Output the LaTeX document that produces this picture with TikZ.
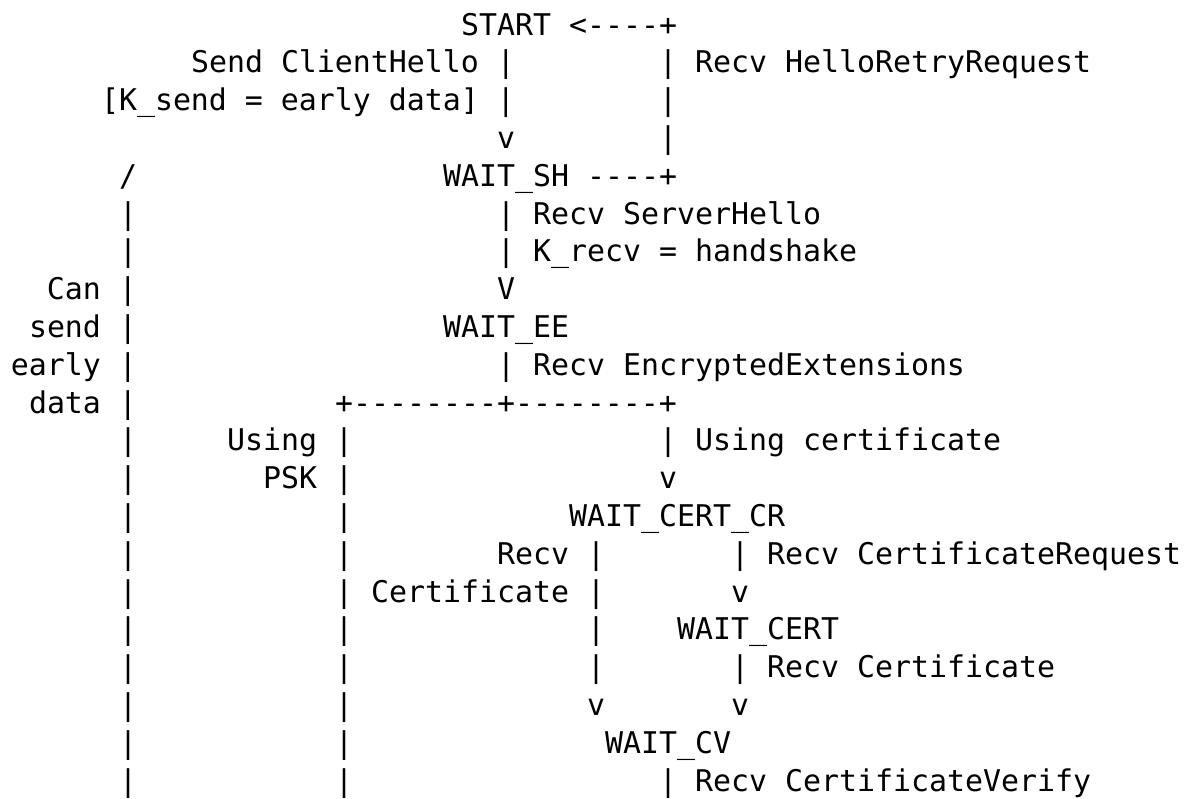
\documentclass[tikz,border=0pt]{standalone}
\usepackage{fontspec}
\setmonofont{DejaVu Sans Mono}
\tikzset{
	ascii/.style={anchor=base west, inner sep=0pt, outer sep=0pt, text=black,
		font=\ttfamily\fontsize{14.95pt}{18pt}\selectfont}
}
\begin{document}
\begin{tikzpicture}[x=9pt,y=18.9pt]
		%frame of the page, one column = 9pt, one line = 18.9pt
		\fill[white] (4.389,0.926) rectangle (70.722,-20.185);
		\useasboundingbox (4.389,0.926) rectangle (70.722,-20.185);

		%start and hello retry loop
		\node[ascii] (start) at (30,0) {START <----+};
		\node[ascii] (sendch) at (15,-1) {Send ClientHello |};
		\node[ascii] (retrybar) at (41,-1) {| Recv HelloRetryRequest};
		\node[ascii] (ksend) at (10,-2) {[K\_send = early data] |};
		\node[ascii] (retrybarb) at (41,-2) {|};
		\node[ascii] (arrsh) at (32,-3) {v};
		\node[ascii] (retrybarc) at (41,-3) {|};
		\node[ascii] (slash) at (11,-4) {/};
		\node[ascii] (waitsh) at (29,-4) {WAIT\_SH ----+};

		%server hello
		\node[ascii] (edbara) at (11,-5) {|};
		\node[ascii] (recvsh) at (32,-5) {| Recv ServerHello};
		\node[ascii] (edbarb) at (11,-6) {|};
		\node[ascii] (krecv) at (32,-6) {| K\_recv = handshake};
		\node[ascii] (can) at (7,-7) {Can |};
		\node[ascii] (arree) at (32,-7) {V};
		\node[ascii] (send) at (6,-8) {send |};
		\node[ascii] (waitee) at (29,-8) {WAIT\_EE};
		\node[ascii] (early) at (5,-9) {early |};
		\node[ascii] (recvee) at (32,-9) {| Recv EncryptedExtensions};
		\node[ascii] (data) at (6,-10) {data |};
		\node[ascii] (split) at (23,-10) {+--------+--------+};

		%psk or certificate
		\node[ascii] (edbarc) at (11,-11) {|};
		\node[ascii] (using) at (17,-11) {Using |};
		\node[ascii] (usingcert) at (41,-11) {| Using certificate};
		\node[ascii] (edbard) at (11,-12) {|};
		\node[ascii] (psk) at (19,-12) {PSK |};
		\node[ascii] (arrcr) at (41,-12) {v};
		\node[ascii] (edbare) at (11,-13) {|};
		\node[ascii] (pskbara) at (23,-13) {|};
		\node[ascii] (waitcertcr) at (36,-13) {WAIT\_CERT\_CR};
		\node[ascii] (edbarf) at (11,-14) {|};
		\node[ascii] (pskbarb) at (23,-14) {|};
		\node[ascii] (recvc) at (32,-14) {Recv |};
		\node[ascii] (recvcr) at (45,-14) {| Recv CertificateRequest};
		\node[ascii] (edbarg) at (11,-15) {|};
		\node[ascii] (pskbarc) at (23,-15) {|};
		\node[ascii] (certlbl) at (25,-15) {Certificate |};
		\node[ascii] (arrcert) at (45,-15) {v};
		\node[ascii] (edbarh) at (11,-16) {|};
		\node[ascii] (pskbard) at (23,-16) {|};
		\node[ascii] (certbara) at (37,-16) {|};
		\node[ascii] (waitcert) at (42,-16) {WAIT\_CERT};
		\node[ascii] (edbari) at (11,-17) {|};
		\node[ascii] (pskbare) at (23,-17) {|};
		\node[ascii] (certbarb) at (37,-17) {|};
		\node[ascii] (recvcert) at (45,-17) {| Recv Certificate};

		%certificate verify
		\node[ascii] (edbarj) at (11,-18) {|};
		\node[ascii] (pskbarf) at (23,-18) {|};
		\node[ascii] (arrcva) at (37,-18) {v};
		\node[ascii] (arrcvb) at (45,-18) {v};
		\node[ascii] (edbark) at (11,-19) {|};
		\node[ascii] (pskbarg) at (23,-19) {|};
		\node[ascii] (waitcv) at (38,-19) {WAIT\_CV};
		\node[ascii] (edbarl) at (11,-20) {|};
		\node[ascii] (pskbarh) at (23,-20) {|};
		\node[ascii] (recvcv) at (41,-20) {| Recv CertificateVerify};

	\end{tikzpicture}
\end{document}
